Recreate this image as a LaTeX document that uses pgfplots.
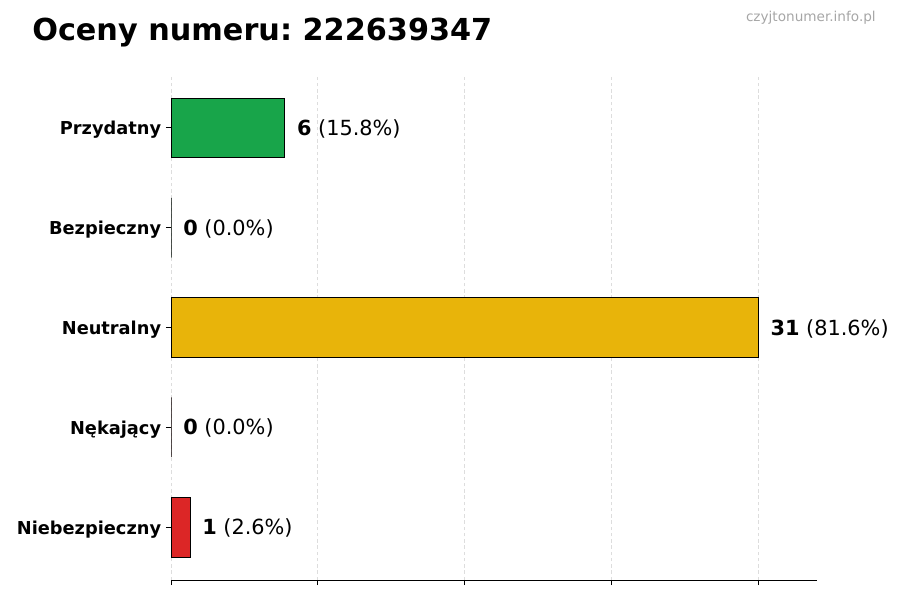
\documentclass[border=0pt]{standalone}
\usepackage{fontspec}
\setmainfont{DejaVu Sans}
\usepackage{pgfplots}
\pgfplotsset{compat=1.18}
\frenchspacing
\definecolor{good}{HTML}{18A54A}
\definecolor{neutral}{HTML}{E8B40A}
\definecolor{bad}{HTML}{DC2626}
\definecolor{gridgray}{HTML}{DDDDDD}
\definecolor{wm}{HTML}{A6A6A6}

\begin{document}
\begin{tikzpicture}[x=1pt,y=1pt]
    \begin{axis}[
        scale only axis,
        width=465.1pt, height=363.6pt,
        at={(0,0)}, anchor=south west,
        xmin=0, xmax=34.1,
        ymin=-0.53, ymax=4.53,
        xbar, bar width=0.6, bar shift=0pt,
        axis x line*=bottom, axis y line*=left,
        y axis line style={draw=none},
        x axis line style={line width=0.72pt},
        xtick={0,7.75,15.5,23.25,31},
        xticklabels={},
        ytick={0,1,2,3,4},
        yticklabels={Niebezpieczny,Nękający,Neutralny,Bezpieczny,Przydatny},
        yticklabel style={font=\fontsize{12.8}{14}\selectfont\bfseries, yshift=-1.5pt},
        tick align=outside,
        major tick length=3.6pt,
        every tick/.style={black, line width=0.6pt},
        xmajorgrids,
        grid style={gridgray, dash pattern=on 2.5pt off 2pt, line width=0.6pt},
        clip=false,
        nodes near coords,
        every node near coord/.append style={anchor=west, inner sep=0pt, xshift=8.6pt,
            yshift=-0.7pt, font=\fontsize{15}{17}\selectfont},
    ]
    \addplot[fill=good, draw=black, line width=0.6pt,
        nodes near coords={\textbf{6} (15.8\%)}] coordinates {(6,4)};
    \addplot[fill=good, draw=black, line width=0.6pt,
        nodes near coords={\textbf{0} (0.0\%)}] coordinates {(0,3)};
    \addplot[fill=neutral, draw=black, line width=0.6pt,
        nodes near coords={\textbf{31} (81.6\%)}] coordinates {(31,2)};
    \addplot[fill=bad, draw=black, line width=0.6pt,
        nodes near coords={\textbf{0} (0.0\%)}] coordinates {(0,1)};
    \addplot[fill=bad, draw=black, line width=0.6pt,
        nodes near coords={\textbf{1} (2.6\%)}] coordinates {(1,0)};
    \end{axis}
    \node[anchor=base west, inner sep=0pt, font=\fontsize{21.8}{24}\selectfont\bfseries]
        at (-100.08,388.08) {Oceny numeru: 222639347};
    \node[anchor=base east, inner sep=0pt, text=wm, font=\fontsize{9.8}{11}\selectfont]
        at (507.6,401.76) {czyjtonumer.info.pl};
    \pgfresetboundingbox
    \path[use as bounding box] (-123.12,-14.4) rectangle (524.88,417.6);
\end{tikzpicture}
\end{document}
